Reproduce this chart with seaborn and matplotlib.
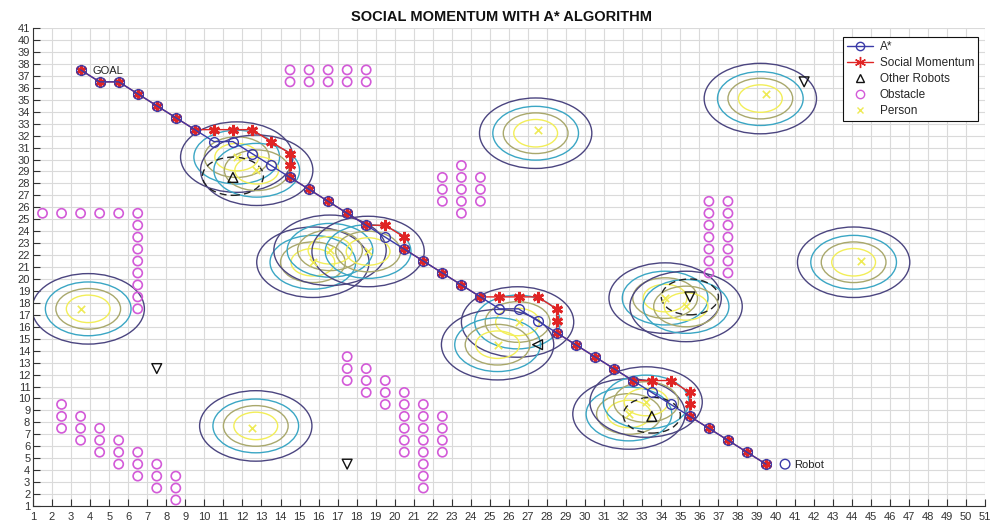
import numpy as np
import pandas as pd
import matplotlib
matplotlib.use("Agg")
import matplotlib.pyplot as plt
from matplotlib.patches import Circle
from matplotlib.lines import Line2D
import seaborn as sns

# ---------------- data ----------------
astar_x = [3.5, 4.5, 5.5, 6.5, 7.5, 8.5, 9.5, 10.5, 11.5, 12.5, 13.5, 14.5, 15.5, 16.5,
           17.5, 18.5, 19.5, 20.5, 21.5, 22.5, 23.5, 24.5, 25.5, 26.5, 27.5, 28.5, 29.5,
           30.5, 31.5, 32.5, 33.5, 34.5, 35.5, 36.5, 37.5, 38.5, 39.5]
astar_y = [37.5, 36.5, 36.5, 35.5, 34.5, 33.5, 32.5, 31.5, 31.5, 30.5, 29.5, 28.5, 27.5, 26.5,
           25.5, 24.5, 23.5, 22.5, 21.5, 20.5, 19.5, 18.5, 17.5, 17.5, 16.5, 15.5, 14.5,
           13.5, 12.5, 11.5, 10.5, 9.5, 8.5, 7.5, 6.5, 5.5, 4.5]

sm_x = [3.5, 4.5, 5.5, 6.5, 7.5, 8.5, 9.5, 10.5, 11.5, 12.5, 13.5, 14.5, 14.5, 14.5, 15.5,
        16.5, 17.5, 18.5, 19.5, 20.5, 20.5, 21.5, 22.5, 23.5, 24.5, 25.5, 26.5, 27.5, 28.5,
        28.5, 28.5, 29.5, 30.5, 31.5, 32.5, 33.5, 34.5, 35.5, 35.5, 35.5, 36.5, 37.5, 38.5, 39.5]
sm_y = [37.5, 36.5, 36.5, 35.5, 34.5, 33.5, 32.5, 32.5, 32.5, 32.5, 31.5, 30.5, 29.5, 28.5, 27.5,
        26.5, 25.5, 24.5, 24.5, 23.5, 22.5, 21.5, 20.5, 19.5, 18.5, 18.5, 18.5, 18.5, 17.5,
        16.5, 15.5, 14.5, 13.5, 12.5, 11.5, 11.5, 11.5, 10.5, 9.5, 8.5, 7.5, 6.5, 5.5, 4.5]

robot_start = (40.5, 4.5)
goal = (3.5, 37.5)

obstacle_x = ([14.5, 15.5, 16.5, 17.5, 18.5] * 2
              + [1.5, 2.5, 3.5, 4.5, 5.5]
              + [6.5] * 9
              + [22.5] * 3 + [23.5] * 5 + [24.5] * 3
              + [36.5] * 7 + [37.5] * 7
              + [2.5] * 3 + [3.5] * 3 + [4.5] * 3 + [5.5] * 3 + [6.5] * 3 + [7.5] * 3 + [8.5] * 3
              + [17.5] * 3 + [18.5] * 3 + [19.5] * 3 + [20.5] * 6 + [21.5] * 8 + [22.5] * 4)
obstacle_y = ([37.5] * 5 + [36.5] * 5
              + [25.5] * 5
              + [25.5, 24.5, 23.5, 22.5, 21.5, 20.5, 19.5, 18.5, 17.5]
              + [28.5, 27.5, 26.5] + [29.5, 28.5, 27.5, 26.5, 25.5] + [28.5, 27.5, 26.5]
              + [26.5, 25.5, 24.5, 23.5, 22.5, 21.5, 20.5] * 2
              + [9.5, 8.5, 7.5] + [8.5, 7.5, 6.5] + [7.5, 6.5, 5.5] + [6.5, 5.5, 4.5]
              + [5.5, 4.5, 3.5] + [4.5, 3.5, 2.5] + [3.5, 2.5, 1.5]
              + [13.5, 12.5, 11.5] + [12.5, 11.5, 10.5] + [11.5, 10.5, 9.5]
              + [10.5, 9.5, 8.5, 7.5, 6.5, 5.5]
              + [9.5, 8.5, 7.5, 6.5, 5.5, 4.5, 3.5, 2.5]
              + [8.5, 7.5, 6.5, 5.5])

robot_x = [11.5, 41.5, 7.5, 17.5, 27.5, 33.5, 35.5]
robot_y = [28.5, 36.5, 12.5, 4.5, 14.5, 8.5, 18.5]
robot_dir = ["up", "down", "down", "down", "left", "up", "down"]

# robots with a dashed safety zone
zone_robot_x = [11.5, 35.5, 33.5]
zone_robot_y = [28.6, 18.5, 8.6]
zone_robot_r = [1.6, 1.5, 1.5]

# persons (markers) and their social-zone contour centres
person_x = [3.5, 12.5, 27.5, 39.5, 44.5, 11.7, 12.7, 15.7, 16.6, 18.6, 26.5, 25.4, 34.2, 35.3, 32.3, 33.2]
person_y = [17.5, 7.5, 32.5, 35.5, 21.5, 30.2, 29.1, 21.4, 22.4, 22.3, 16.4, 14.5, 18.4, 17.7, 8.7, 9.7]
zone_x = [3.9, 12.7, 27.4, 39.2, 44.1, 11.7, 12.75, 15.7, 16.6, 18.6, 26.45, 25.4, 34.2, 35.3, 32.3, 33.2]
zone_y = [17.5, 7.7, 32.2, 35.1, 21.4, 30.2, 29.1, 21.4, 22.4, 22.3, 16.4, 14.5, 18.4, 17.7, 8.7, 9.7]
contour_r = [2.95, 2.25, 1.7, 1.15]
contour_colors = ["#4b4580", "#3aa6c4", "#a9a86c", "#f2ee58"]

# ---------------- style ----------------
sns.set_theme(style="white")
plt.rcParams["font.family"] = ["Liberation Sans", "DejaVu Sans"]

BLUE = "#3a3aa8"
RED = "#e02424"
MAG = "#d35ad8"
YEL = "#eeea55"

fig = plt.figure(figsize=(10, 5.24), dpi=100)
ax = fig.add_axes([0.033, 0.0344, 0.952, 0.912])

# social zones (circles in data units)
for cx, cy in zip(zone_x, zone_y):
    for r, c in zip(contour_r, contour_colors):
        ax.add_patch(Circle((cx, cy), r, fill=False, ec=c, lw=1.0, zorder=2))
for cx, cy, r in zip(zone_robot_x, zone_robot_y, zone_robot_r):
    ax.add_patch(Circle((cx, cy), r, fill=False, ec="#222222", lw=1.0,
                        ls=(0, (5, 3)), zorder=2))

# persons
sns.scatterplot(x=person_x, y=person_y, marker="x", color=YEL, s=28, linewidth=1.2,
                ax=ax, zorder=3, legend=False)

# obstacles
sns.scatterplot(x=obstacle_x, y=obstacle_y, marker="o", s=44, facecolors="none",
                edgecolor=MAG, linewidth=1.2, ax=ax, zorder=4, legend=False)

# other robots
rob = pd.DataFrame({"x": robot_x, "y": robot_y, "dir": robot_dir})
sns.scatterplot(data=rob, x="x", y="y", style="dir",
                markers={"up": "^", "down": "v", "left": "<"},
                s=50, facecolors="none", edgecolor="#111111", linewidth=1.0,
                ax=ax, zorder=4, legend=False)

# paths
sns.lineplot(x=sm_x, y=sm_y, sort=False, estimator=None, color=RED, lw=1.0,
             marker=(6, 2, 0), markersize=8, markeredgecolor=RED, markeredgewidth=2.0,
             ax=ax, zorder=5)
sns.lineplot(x=astar_x, y=astar_y, sort=False, estimator=None, color=BLUE, lw=1.0,
             marker="o", markersize=7, markerfacecolor="none", markeredgecolor=BLUE,
             markeredgewidth=1.0, ax=ax, zorder=6)
sns.scatterplot(x=[robot_start[0]], y=[robot_start[1]], marker="o", s=48,
                facecolors="none", edgecolor=BLUE, linewidth=1.0, ax=ax, zorder=6, legend=False)

ax.text(goal[0] + 0.65, goal[1] - 0.1, "GOAL", fontsize=8, color="#222222",
        va="center", ha="left", zorder=7)
ax.text(robot_start[0] + 0.5, robot_start[1] - 0.1, "Robot", fontsize=8, color="#222222",
        va="center", ha="left", zorder=7)

# axes
ax.set_xlim(1, 51)
ax.set_ylim(1, 41)
ax.set_xticks(range(1, 52))
ax.set_yticks(range(1, 42))
ax.grid(True, color="#dadada", lw=0.8)
ax.set_axisbelow(True)
for s in ["top", "right"]:
    ax.spines[s].set_visible(False)
for s in ["left", "bottom"]:
    ax.spines[s].set_color("#333333")
    ax.spines[s].set_linewidth(0.8)
ax.tick_params(axis="both", direction="in", length=5, width=0.8, colors="#333333",
               labelsize=8, labelcolor="#333333")
ax.tick_params(axis="y", pad=2)
ax.tick_params(axis="x", pad=4)
ax.tick_params(bottom=True, left=True)
ax.set_xlabel("")
ax.set_ylabel("")
ax.set_title("SOCIAL MOMENTUM WITH A* ALGORITHM", fontsize=10.5, fontweight="bold",
             color="#111111", pad=5, x=0.492)

handles = [
    Line2D([], [], color=BLUE, lw=1.0, marker="o", mfc="none", mec=BLUE, ms=6, label="A*"),
    Line2D([], [], color=RED, lw=1.0, marker=(6, 2, 0), mec=RED, ms=8, label="Social Momentum"),
    Line2D([], [], color="#111111", ls="none", marker="^", mfc="none", ms=6, label="Other Robots"),
    Line2D([], [], color=MAG, ls="none", marker="o", mfc="none", ms=6, label="Obstacle"),
    Line2D([], [], color=YEL, ls="none", marker="x", ms=5, label="Person"),
]
leg = ax.legend(handles=handles, loc="upper right", bbox_to_anchor=(0.993, 0.981),
                fontsize=8.5, frameon=True, fancybox=False, edgecolor="#111111",
                framealpha=1, borderpad=0.35, labelspacing=0.33, handlelength=2.2,
                handletextpad=0.6, borderaxespad=0)
leg.get_frame().set_linewidth(0.8)

fig.savefig("out.png", dpi=100)
